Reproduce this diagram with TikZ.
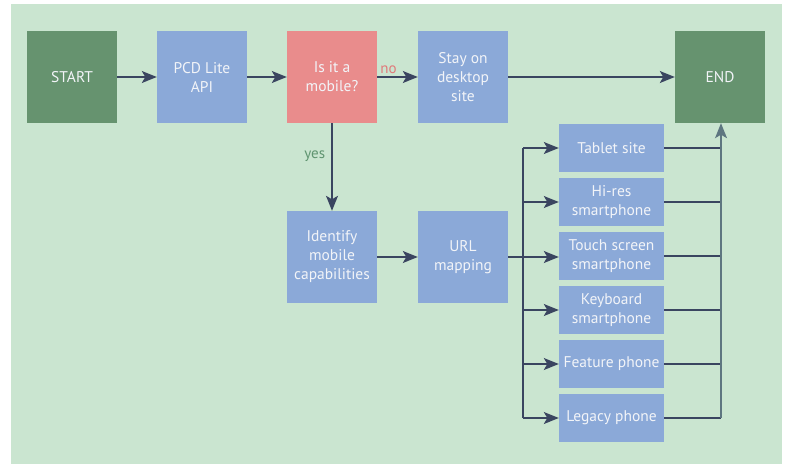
\documentclass[tikz,border=0pt]{standalone}
\usepackage{fontspec}
\setmainfont{PT Sans}
\usetikzlibrary{arrows.meta}
\definecolor{bg}{HTML}{CAE5D0}
\definecolor{dgreen}{HTML}{66936F}
\definecolor{bbox}{HTML}{8BA9D8}
\definecolor{rbox}{HTML}{E98C8C}
\definecolor{navy}{HTML}{3A4560}
\definecolor{greyl}{HTML}{5E7680}
\definecolor{txt}{HTML}{F2F4F8}
\definecolor{nored}{HTML}{E07A7A}
\definecolor{yesgreen}{HTML}{5F9470}
\tikzset{
  box/.style={minimum width=90pt,minimum height=92pt,inner sep=2pt,align=center,
    text=txt,font=\fontsize{15.5}{19}\selectfont},
  gbox/.style={box,fill=dgreen},
  bluebox/.style={box,fill=bbox},
  redbox/.style={box,fill=rbox},
  sbox/.style={box,fill=bbox,minimum width=105pt,minimum height=48pt,font=\fontsize{15.5}{18.5}\selectfont},
  tip/.style={-{Stealth[length=15pt,width=12pt,inset=3.5pt]}},
  arr/.style={draw=navy,line width=1.2pt,tip},
  ln/.style={draw=navy,line width=1.2pt},
  gl/.style={draw=greyl,line width=1.2pt},
  lab/.style={font=\fontsize{15}{17}\selectfont},
}
\begin{document}
\begin{tikzpicture}[x=1pt,y=-1pt]
\useasboundingbox (0,0) rectangle (785,464);
\fill[bg] (11,4) rectangle (782,464);
\node[gbox] (start) at (72,77) {START};
\node[bluebox] (pcd) at (202,77) {PCD Lite\\API};
\node[redbox] (ism) at (332,77) {Is it a\\mobile?};
\node[bluebox] (stay) at (463,77) {Stay on\\desktop\\site};
\node[gbox] (end) at (720,77) {END};
\node[bluebox] (ident) at (332,257) {Identify\\mobile\\capabilities};
\node[bluebox] (url) at (463,257) {URL\\mapping};
\node[sbox] (tab) at (611.5,148) {Tablet site};
\node[sbox] (hires) at (611.5,202) {Hi-res\\smartphone};
\node[sbox] (touch) at (611.5,256) {Touch screen\\smartphone};
\node[sbox] (key) at (611.5,310) {Keyboard\\smartphone};
\node[sbox] (feat) at (611.5,364) {Feature phone};
\node[sbox] (leg) at (611.5,418) {Legacy phone};
\coordinate (sx) at (523,0);
\coordinate (mx) at (721,0);
\draw[arr] (start) -- (pcd);
\draw[arr] (pcd) -- (ism);
\draw[arr] (ism) -- node[above,pos=0.28,text=nored,lab,yshift=-1pt]{no} (stay);
\draw[arr] (stay) -- (end);
\draw[arr] (ism) -- node[left,pos=0.38,text=yesgreen,lab,xshift=-3pt]{yes} (ident);
\draw[arr] (ident) -- (url);
\draw[arr] (url.east) -- (url.east -| touch.west);
\draw[ln] (sx |- tab) -- (sx |- leg);
\foreach \b in {tab,hires,key,feat,leg} {
  \draw[arr] (sx |- \b) -- (\b.west);
}
\foreach \b in {tab,hires,touch,key,feat,leg} {
  \draw[ln] (\b.east) -- (mx |- \b);
}
\draw[gl,tip] (mx |- leg) -- (mx |- end.south);
\end{tikzpicture}
\end{document}
